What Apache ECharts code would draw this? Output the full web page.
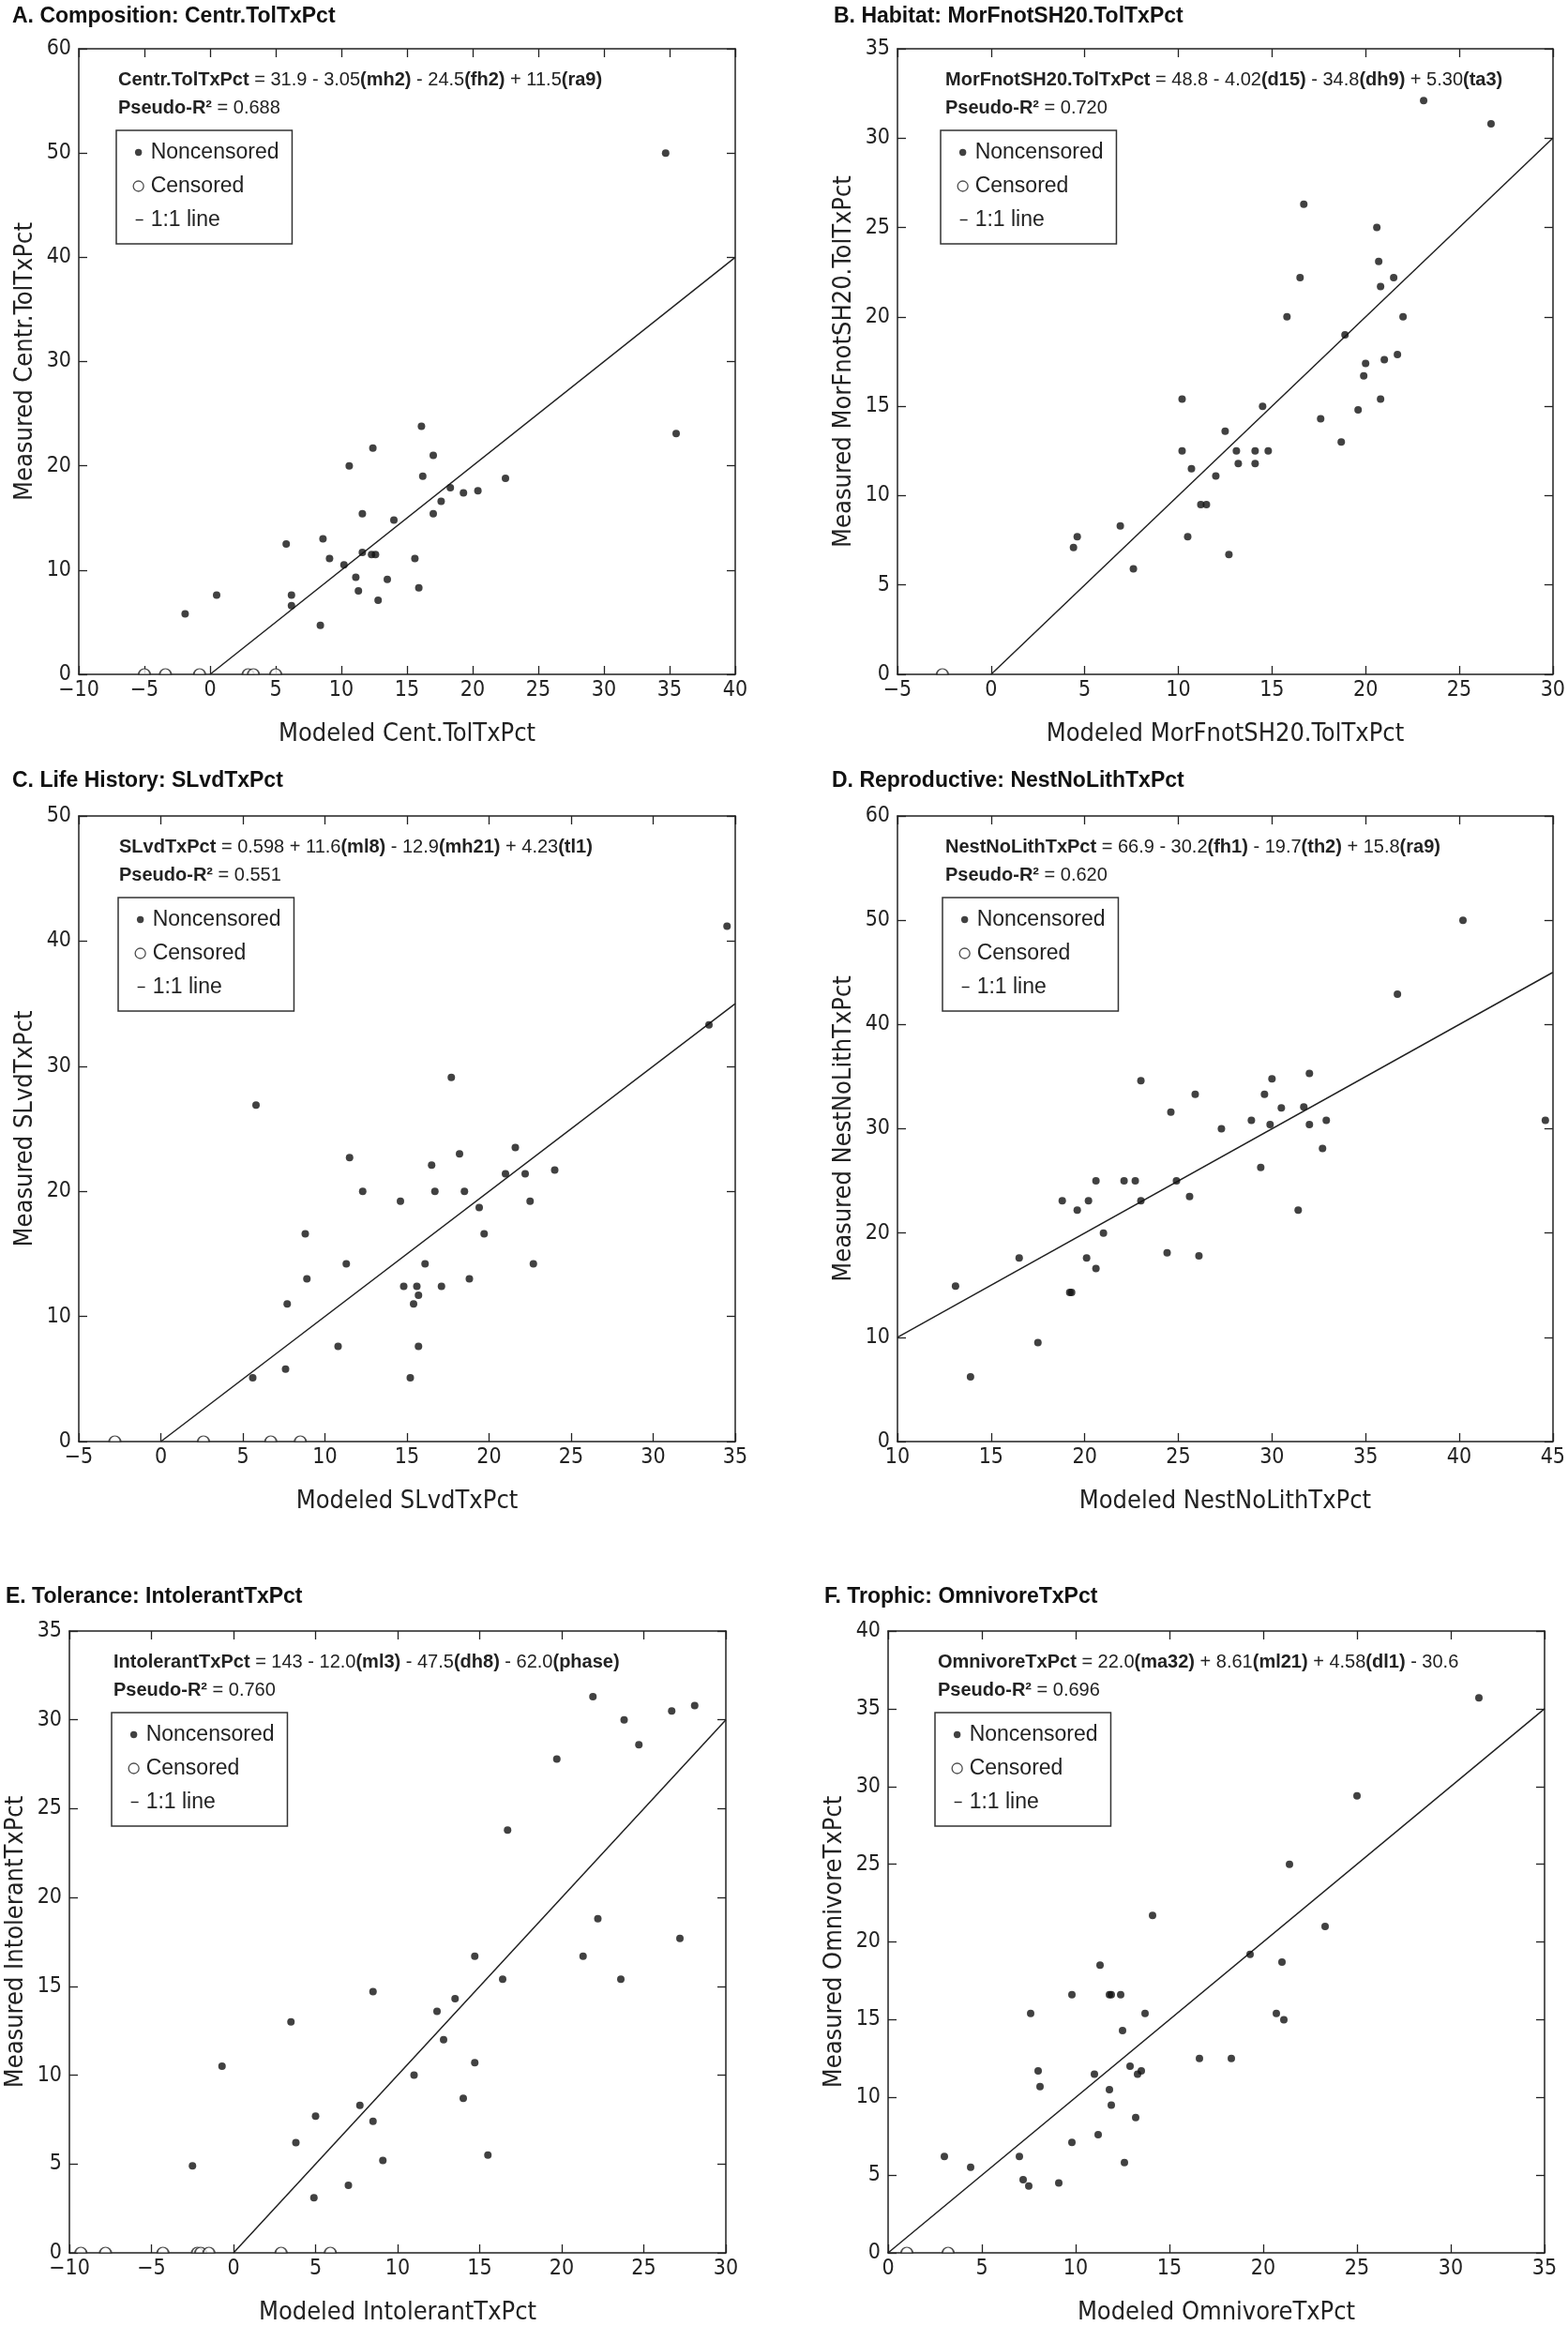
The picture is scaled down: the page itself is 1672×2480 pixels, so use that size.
<!DOCTYPE html>
<html>
<head>
<meta charset="utf-8">
<title>Measured vs modeled fish metrics</title>
<script src="https://cdn.jsdelivr.net/npm/echarts@6/dist/echarts.min.js"></script>
<style>
  html, body { margin: 0; padding: 0; background: #fff; }
  #chart { width: 1672px; height: 2480px; }
</style>
</head>
<body>
<div id="chart"></div>
<script>
  // A. Composition: Centr.TolTxPct
  const aModeled = [34.7, 35.5, 16.1, 12.4, 17.0, 10.6, 16.2, 22.5, 18.3, 20.4, 19.3, 17.6, 11.6, 17.0, 14.0, 5.8, 8.6, 11.6, 12.3, 12.6, 9.1, 15.6, 10.2, 11.1, 13.5, 15.9, 11.3, 12.8, 6.2, 6.2, 0.5, -1.9, 8.4];
  const aMeasured = [50.0, 23.1, 23.8, 21.7, 21.0, 20.0, 19.0, 18.8, 17.9, 17.6, 17.4, 16.6, 15.4, 15.4, 14.8, 12.5, 13.0, 11.7, 11.5, 11.5, 11.1, 11.1, 10.5, 9.3, 9.1, 8.3, 8.0, 7.1, 7.6, 6.6, 7.6, 5.8, 4.7];
  const aCensored = [-5.0, -3.4, -0.8, 2.9, 3.3, 5.0];
  const aXTicks = [-10, 40, 5];
  const aYTicks = [0, 60, 10];

  // B. Habitat: MorFnotSH20.TolTxPct
  const bModeled = [23.1, 26.7, 16.7, 20.6, 20.7, 16.5, 21.5, 20.8, 15.8, 22.0, 18.9, 21.0, 21.7, 20.0, 19.9, 10.2, 20.8, 14.5, 19.6, 17.6, 18.7, 12.5, 10.2, 13.1, 14.1, 14.8, 10.7, 13.2, 14.1, 12.0, 11.2, 11.5, 6.9, 4.6, 10.5, 4.4, 12.7, 7.6];
  const bMeasured = [32.1, 30.8, 26.3, 25.0, 23.1, 22.2, 22.2, 21.7, 20.0, 20.0, 19.0, 17.6, 17.9, 17.4, 16.7, 15.4, 15.4, 15.0, 14.8, 14.3, 13.0, 13.6, 12.5, 12.5, 12.5, 12.5, 11.5, 11.8, 11.8, 11.1, 9.5, 9.5, 8.3, 7.7, 7.7, 7.1, 6.7, 5.9];
  const bCensored = [-2.6];
  const bXTicks = [-5, 30, 5];
  const bYTicks = [0, 35, 5];

  // C. Life History: SLvdTxPct
  const cModeled = [34.5, 33.4, 17.7, 5.8, 21.6, 18.2, 11.5, 16.5, 24.0, 21.0, 22.2, 12.3, 16.7, 18.5, 14.6, 22.5, 19.4, 8.8, 19.7, 11.3, 16.1, 22.7, 8.9, 18.8, 14.8, 15.6, 17.1, 15.7, 7.7, 15.4, 10.8, 15.7, 7.6, 5.6, 15.2];
  const cMeasured = [41.2, 33.3, 29.1, 26.9, 23.5, 23.0, 22.7, 22.1, 21.7, 21.4, 21.4, 20.0, 20.0, 20.0, 19.2, 19.2, 18.7, 16.6, 16.6, 14.2, 14.2, 14.2, 13.0, 13.0, 12.4, 12.4, 12.4, 11.7, 11.0, 11.0, 7.6, 7.6, 5.8, 5.1, 5.1];
  const cCensored = [-2.8, 2.6, 6.7, 8.5];
  const cXTicks = [-5, 35, 5];
  const cYTicks = [0, 50, 10];

  // D. Reproductive: NestNoLithTxPct
  const dModeled = [40.2, 36.7, 23.0, 30.0, 32.0, 25.9, 29.6, 24.6, 30.5, 31.7, 28.9, 32.9, 44.6, 29.9, 32.0, 27.3, 32.7, 29.4, 20.6, 22.1, 22.7, 24.9, 25.6, 18.8, 20.2, 23.0, 19.6, 31.4, 21.0, 24.4, 26.1, 16.5, 20.1, 20.6, 19.2, 19.3, 13.1, 17.5, 13.9];
  const dMeasured = [50.0, 42.9, 34.6, 34.8, 35.3, 33.3, 33.3, 31.6, 32.0, 32.1, 30.8, 30.8, 30.8, 30.4, 30.4, 30.0, 28.1, 26.3, 25.0, 25.0, 25.0, 25.0, 23.5, 23.1, 23.1, 23.1, 22.2, 22.2, 20.0, 18.1, 17.8, 17.6, 17.6, 16.6, 14.3, 14.3, 14.9, 9.5, 6.2];
  const dCensored = [];
  const dXTicks = [10, 45, 5];
  const dYTicks = [0, 60, 10];

  // E. Tolerance: IntolerantTxPct
  const eModeled = [21.9, 28.1, 26.7, 23.8, 24.7, 19.7, 16.7, 22.2, 27.2, 14.7, 21.3, 16.4, 23.6, 8.5, 13.5, 12.4, 3.5, 12.8, 14.7, -0.7, 11.0, 7.7, 14.0, 5.0, 8.5, 3.8, 9.1, 15.5, -2.5, 7.0, 4.9];
  const eMeasured = [31.3, 30.8, 30.5, 30.0, 28.6, 27.8, 23.8, 18.8, 17.7, 16.7, 16.7, 15.4, 15.4, 14.7, 14.3, 13.6, 13.0, 12.0, 10.7, 10.5, 10.0, 8.3, 8.7, 7.7, 7.4, 6.2, 5.2, 5.5, 4.9, 3.8, 3.1];
  const eCensored = [-9.3, -7.8, -4.3, -2.2, -2.0, -1.5, 2.9, 5.9];
  const eXTicks = [-10, 30, 5];
  const eYTicks = [0, 35, 5];

  // F. Trophic: OmnivoreTxPct
  const fModeled = [31.5, 25.0, 21.4, 14.1, 23.3, 19.3, 21.0, 11.3, 9.8, 11.8, 11.9, 12.4, 7.6, 13.7, 20.7, 21.1, 12.5, 16.6, 18.3, 12.9, 8.0, 11.0, 13.5, 13.3, 8.1, 11.8, 11.9, 13.2, 11.2, 9.8, 3.0, 7.0, 12.6, 4.4, 7.2, 7.5, 9.1];
  const fMeasured = [35.7, 29.4, 25.0, 21.7, 21.0, 19.2, 18.7, 18.5, 16.6, 16.6, 16.6, 16.6, 15.4, 15.4, 15.4, 15.0, 14.3, 12.5, 12.5, 12.0, 11.7, 11.5, 11.7, 11.5, 10.7, 10.5, 9.5, 8.7, 7.6, 7.1, 6.2, 6.2, 5.8, 5.5, 4.7, 4.3, 4.5];
  const fCensored = [1.0, 3.2];
  const fXTicks = [0, 35, 5];
  const fYTicks = [0, 40, 5];

  const SANS = '"Liberation Sans", Arial, Helvetica, sans-serif';
  const NARROW = '"Liberation Sans Narrow", "Arial Narrow", "DejaVu Sans Condensed", sans-serif';
  const INK = '#222';

  // legend icons: the extra moveTo points keep every icon on the same 16x16 box
  const DOT_ICON = 'path://M0,0M16,16M4.3,8a3.7,3.7 0 1,0 7.4,0a3.7,3.7 0 1,0 -7.4,0z';
  const RING_ICON = 'path://M0,0M16,16M2.5,8a5.5,5.5 0 1,0 11,0a5.5,5.5 0 1,0 -11,0z';
  const DASH_ICON = 'path://M0,0M16,16M5,7.3h8v1.4h-8z';
  // censored sites sit on the axis, only the upper half of the ring shows
  const HALF_RING = 'path://M0,10A10,10,0,0,1,20,10Z';

  const panels = [
    { title: 'A. Composition: Centr.TolTxPct', tx: 13, ty: 6, left: 84, top: 52, eq: 42, leg: 40,
      x: aModeled, y: aMeasured, cens: aCensored, xt: aXTicks, yt: aYTicks,
      xName: 'Modeled Cent.TolTxPct', yName: 'Measured Centr.TolTxPct',
      formula: '{b|Centr.TolTxPct} = 31.9 - 3.05{b|(mh2)} - 24.5{b|(fh2)} + 11.5{b|(ra9)}', r2: '0.688' },
    { title: 'B. Habitat: MorFnotSH20.TolTxPct', tx: 889, ty: 6, left: 957, top: 52, eq: 51, leg: 46,
      x: bModeled, y: bMeasured, cens: bCensored, xt: bXTicks, yt: bYTicks,
      xName: 'Modeled MorFnotSH20.TolTxPct', yName: 'Measured MorFnotSH20.TolTxPct',
      formula: '{b|MorFnotSH20.TolTxPct} = 48.8 - 4.02{b|(d15)} - 34.8{b|(dh9)} + 5.30{b|(ta3)}', r2: '0.720' },
    { title: 'C. Life History: SLvdTxPct', tx: 13, ty: 821, left: 84, top: 870, eq: 43, leg: 42,
      x: cModeled, y: cMeasured, cens: cCensored, xt: cXTicks, yt: cYTicks,
      xName: 'Modeled SLvdTxPct', yName: 'Measured SLvdTxPct',
      formula: '{b|SLvdTxPct} = 0.598 + 11.6{b|(ml8)} - 12.9{b|(mh21)} + 4.23{b|(tl1)}', r2: '0.551' },
    { title: 'D. Reproductive: NestNoLithTxPct', tx: 887, ty: 821, left: 957, top: 870, eq: 51, leg: 48,
      x: dModeled, y: dMeasured, cens: dCensored, xt: dXTicks, yt: dYTicks,
      xName: 'Modeled NestNoLithTxPct', yName: 'Measured NestNoLithTxPct',
      formula: '{b|NestNoLithTxPct} = 66.9 - 30.2{b|(fh1)} - 19.7{b|(th2)} + 15.8{b|(ra9)}', r2: '0.620' },
    { title: 'E. Tolerance: IntolerantTxPct', tx: 6, ty: 1691, left: 74, top: 1739, eq: 47, leg: 45,
      x: eModeled, y: eMeasured, cens: eCensored, xt: eXTicks, yt: eYTicks,
      xName: 'Modeled IntolerantTxPct', yName: 'Measured IntolerantTxPct',
      formula: '{b|IntolerantTxPct} = 143 - 12.0{b|(ml3)} - 47.5{b|(dh8)} - 62.0{b|(phase)}', r2: '0.760' },
    { title: 'F. Trophic: OmnivoreTxPct', tx: 879, ty: 1691, left: 947, top: 1739, eq: 53, leg: 50,
      x: fModeled, y: fMeasured, cens: fCensored, xt: fXTicks, yt: fYTicks,
      xName: 'Modeled OmnivoreTxPct', yName: 'Measured OmnivoreTxPct',
      formula: '{b|OmnivoreTxPct} = 22.0{b|(ma32)} + 8.61{b|(ml21)} + 4.58{b|(dl1)} - 30.6', r2: '0.696' },
  ];

  const minus = (v) => String(v).replace('-', '\u2212');

  // one axis of the framed box; the second copy on the far side only carries ticks
  const makeAxis = (ticks, position, withLabels, name) => ({
    type: 'value',
    position: position,
    min: ticks[0],
    max: ticks[1],
    interval: ticks[2],
    name: withLabels ? name : '',
    nameLocation: 'middle',
    nameGap: position === 'bottom' ? 50 : 44,
    nameTextStyle: { fontFamily: NARROW, fontSize: 27, color: INK },
    axisLine: { show: true, onZero: false, lineStyle: { color: INK, width: 1.5 } },
    axisTick: { show: true, inside: true, length: 9, lineStyle: { color: INK, width: 1.3 } },
    axisLabel: {
      show: withLabels,
      margin: position === 'bottom' ? 6 : 8,
      fontFamily: NARROW,
      fontSize: 23,
      color: INK,
      formatter: minus,
    },
    splitLine: { show: false },
  });

  const grid = [], xAxis = [], yAxis = [], series = [], title = [], legend = [];

  panels.forEach((p, i) => {
    grid.push({ left: p.left, top: p.top, width: 700, height: 667 });

    xAxis.push(makeAxis(p.xt, 'bottom', true, p.xName));
    xAxis.push(makeAxis(p.xt, 'top', false));
    yAxis.push(makeAxis(p.yt, 'left', true, p.yName));
    yAxis.push(makeAxis(p.yt, 'right', false));
    xAxis[2 * i].gridIndex = i;
    xAxis[2 * i + 1].gridIndex = i;
    yAxis[2 * i].gridIndex = i;
    yAxis[2 * i + 1].gridIndex = i;

    const lo = Math.max(p.xt[0], p.yt[0]);
    const hi = Math.min(p.xt[1], p.yt[1]);

    series.push({
      name: '1:1 line',
      type: 'line',
      xAxisIndex: 2 * i,
      yAxisIndex: 2 * i,
      data: [[lo, lo], [hi, hi]],
      showSymbol: false,
      silent: true,
      lineStyle: { color: INK, width: 1.5 },
      z: 2,
    });
    series.push({
      name: 'Noncensored',
      type: 'scatter',
      xAxisIndex: 2 * i,
      yAxisIndex: 2 * i,
      data: p.x.map((v, k) => [v, p.y[k]]),
      symbol: 'circle',
      symbolSize: 8,
      itemStyle: { color: '#111' },
      z: 3,
    });
    series.push({
      name: 'Censored',
      type: 'scatter',
      xAxisIndex: 2 * i,
      yAxisIndex: 2 * i,
      data: p.cens.map((v) => [v, 0]),
      symbol: HALF_RING,
      symbolSize: [12, 6],
      symbolOffset: [0, '-50%'],
      itemStyle: { color: '#fff', borderColor: INK, borderWidth: 1.3 },
      z: 3,
    });

    // panel heading
    title.push({
      text: p.title,
      left: p.tx,
      top: p.ty,
      padding: 0,
      textStyle: { fontFamily: SANS, fontSize: 23, fontWeight: 'bold', color: '#111', lineHeight: 23 },
    });
    // fitted equation and pseudo R²
    title.push({
      text: p.formula + '\n{b|Pseudo-R²} = ' + p.r2,
      left: p.left + p.eq,
      top: p.top + 19,
      padding: 0,
      textStyle: {
        fontFamily: SANS,
        fontSize: 20,
        fontWeight: 'normal',
        color: INK,
        lineHeight: 29.5,
        rich: { b: { fontFamily: SANS, fontSize: 20, fontWeight: 'bold', color: INK, lineHeight: 29.5 } },
      },
    });

    legend.push({
      left: p.left + p.leg,
      top: p.top + 87,
      orient: 'vertical',
      padding: [12, 14, 14, 15],
      itemGap: 13,
      itemWidth: 16,
      itemHeight: 16,
      borderColor: '#333',
      borderWidth: 1.5,
      selectedMode: false,
      textStyle: { fontFamily: SANS, fontSize: 23, color: INK },
      data: [
        { name: 'Noncensored', icon: DOT_ICON, itemStyle: { color: '#111', borderWidth: 0 } },
        { name: 'Censored', icon: RING_ICON, itemStyle: { color: '#fff', borderColor: INK, borderWidth: 1.3 } },
        { name: '1:1 line', icon: DASH_ICON, itemStyle: { color: INK, borderWidth: 0 } },
      ],
    });
  });

  const chart = echarts.init(document.getElementById('chart'));
  chart.setOption({
    backgroundColor: '#fff',
    animation: false,
    title: title,
    legend: legend,
    grid: grid,
    xAxis: xAxis,
    yAxis: yAxis,
    series: series,
  });
</script>
</body>
</html>
